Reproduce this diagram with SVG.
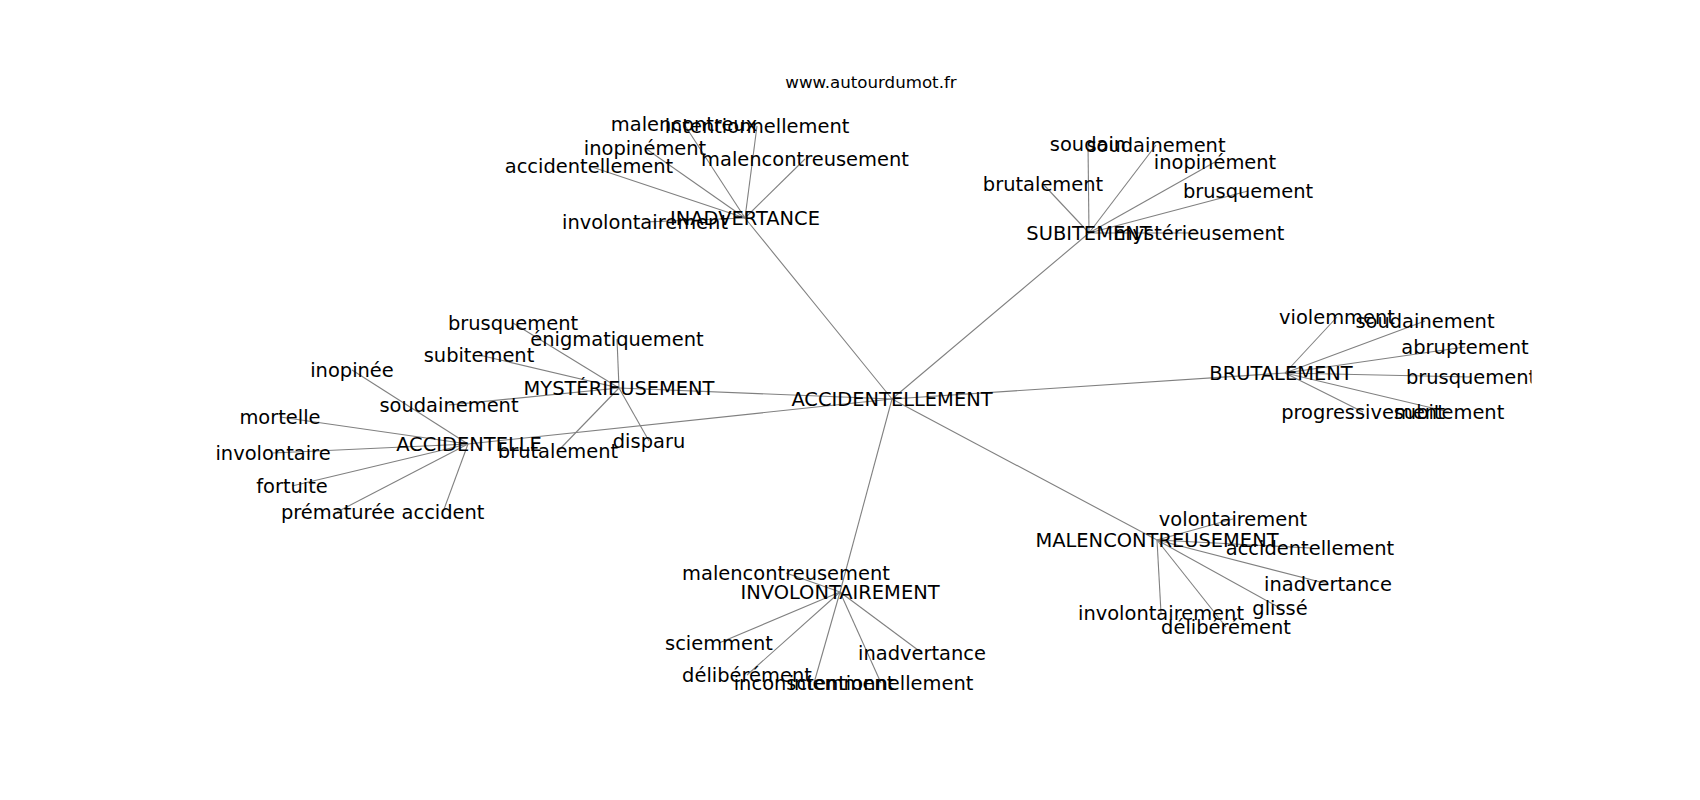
<svg xmlns="http://www.w3.org/2000/svg" width="1700" height="800" viewBox="0 0 1700 800">
<style>
.e{stroke:#808080;stroke-width:1.1;fill:none}
.l{font-family:"DejaVu Sans",sans-serif;font-size:19.44px;fill:#000;text-anchor:middle}
.t{font-family:"DejaVu Sans",sans-serif;font-size:16.67px;fill:#000;text-anchor:middle}
</style>
<defs><clipPath id="ax"><rect x="212.5" y="96" width="1319" height="616"/></clipPath></defs>
<rect width="1700" height="800" fill="#fff"/>
<text class="t" x="871" y="88">www.autourdumot.fr</text>
<g clip-path="url(#ax)">
<g id="connectors">
<line class="e" x1="892" y1="399" x2="745" y2="218"/>
<line class="e" x1="892" y1="399" x2="1089" y2="233"/>
<line class="e" x1="892" y1="399" x2="1285" y2="373"/>
<line class="e" x1="892" y1="399" x2="1157" y2="540"/>
<line class="e" x1="892" y1="399" x2="840" y2="592"/>
<line class="e" x1="892" y1="399" x2="468" y2="444"/>
<line class="e" x1="892" y1="399" x2="619" y2="388"/>
<line class="e" x1="745" y1="218" x2="684" y2="124"/>
<line class="e" x1="745" y1="218" x2="757" y2="126"/>
<line class="e" x1="745" y1="218" x2="645" y2="148"/>
<line class="e" x1="745" y1="218" x2="805" y2="159"/>
<line class="e" x1="745" y1="218" x2="589" y2="166"/>
<line class="e" x1="745" y1="218" x2="645" y2="222"/>
<line class="e" x1="1089" y1="233" x2="1088" y2="144"/>
<line class="e" x1="1089" y1="233" x2="1156" y2="145"/>
<line class="e" x1="1089" y1="233" x2="1215" y2="162"/>
<line class="e" x1="1089" y1="233" x2="1043" y2="184"/>
<line class="e" x1="1089" y1="233" x2="1248" y2="191"/>
<line class="e" x1="1089" y1="233" x2="1199" y2="233"/>
<line class="e" x1="1285" y1="373" x2="1337" y2="317"/>
<line class="e" x1="1285" y1="373" x2="1425" y2="321"/>
<line class="e" x1="1285" y1="373" x2="1465" y2="347"/>
<line class="e" x1="1285" y1="373" x2="1471" y2="377"/>
<line class="e" x1="1285" y1="373" x2="1363" y2="412"/>
<line class="e" x1="1285" y1="373" x2="1449" y2="412"/>
<line class="e" x1="619" y1="388" x2="513" y2="323"/>
<line class="e" x1="619" y1="388" x2="617" y2="339"/>
<line class="e" x1="619" y1="388" x2="479" y2="355"/>
<line class="e" x1="619" y1="388" x2="449" y2="405"/>
<line class="e" x1="619" y1="388" x2="558" y2="451"/>
<line class="e" x1="619" y1="388" x2="649" y2="441"/>
<line class="e" x1="468" y1="444" x2="352" y2="370"/>
<line class="e" x1="468" y1="444" x2="280" y2="417"/>
<line class="e" x1="468" y1="444" x2="273" y2="453"/>
<line class="e" x1="468" y1="444" x2="292" y2="486"/>
<line class="e" x1="468" y1="444" x2="337" y2="512"/>
<line class="e" x1="468" y1="444" x2="443" y2="512"/>
<line class="e" x1="840" y1="592" x2="786" y2="573"/>
<line class="e" x1="840" y1="592" x2="719" y2="643"/>
<line class="e" x1="840" y1="592" x2="747" y2="675"/>
<line class="e" x1="840" y1="592" x2="814" y2="683"/>
<line class="e" x1="840" y1="592" x2="881" y2="683"/>
<line class="e" x1="840" y1="592" x2="922" y2="653"/>
<line class="e" x1="1157" y1="540" x2="1233" y2="519"/>
<line class="e" x1="1157" y1="540" x2="1310" y2="548"/>
<line class="e" x1="1157" y1="540" x2="1328" y2="584"/>
<line class="e" x1="1157" y1="540" x2="1280" y2="608"/>
<line class="e" x1="1157" y1="540" x2="1161" y2="613"/>
<line class="e" x1="1157" y1="540" x2="1226" y2="627"/>
</g>
<g id="ACCIDENTELLEMENT"><text class="l" x="892" y="406">ACCIDENTELLEMENT</text></g>
<g id="INADVERTANCE"><text class="l" x="745" y="225">INADVERTANCE</text></g>
<g id="SUBITEMENT"><text class="l" x="1089" y="240">SUBITEMENT</text></g>
<g id="BRUTALEMENT"><text class="l" x="1281" y="380">BRUTALEMENT</text></g>
<g id="MALENCONTREUSEMENT"><text class="l" x="1157" y="547">MALENCONTREUSEMENT</text></g>
<g id="INVOLONTAIREMENT"><text class="l" x="840" y="599">INVOLONTAIREMENT</text></g>
<g id="ACCIDENTELLE"><text class="l" x="469" y="451">ACCIDENTELLE</text></g>
<g id="MYSTERIEUSEMENT"><text class="l" x="619" y="395">MYSTÉRIEUSEMENT</text></g>
<g id="in-malencontreux"><text class="l" x="684" y="131">malencontreux</text></g>
<g id="in-intentionnellement"><text class="l" x="757" y="133">intentionnellement</text></g>
<g id="in-inopinement"><text class="l" x="645" y="155">inopinément</text></g>
<g id="in-malencontreusement"><text class="l" x="805" y="166">malencontreusement</text></g>
<g id="in-accidentellement"><text class="l" x="589" y="173">accidentellement</text></g>
<g id="in-involontairement"><text class="l" x="645" y="229">involontairement</text></g>
<g id="su-soudain"><text class="l" x="1088" y="151">soudain</text></g>
<g id="su-soudainement"><text class="l" x="1156" y="152">soudainement</text></g>
<g id="su-inopinement"><text class="l" x="1215" y="169">inopinément</text></g>
<g id="su-brutalement"><text class="l" x="1043" y="191">brutalement</text></g>
<g id="su-brusquement"><text class="l" x="1248" y="198">brusquement</text></g>
<g id="su-mysterieusement"><text class="l" x="1199" y="240">mystérieusement</text></g>
<g id="br-violemment"><text class="l" x="1337" y="324">violemment</text></g>
<g id="br-soudainement"><text class="l" x="1425" y="328">soudainement</text></g>
<g id="br-abruptement"><text class="l" x="1465" y="354">abruptement</text></g>
<g id="br-brusquement"><text class="l" x="1471" y="384">brusquement</text></g>
<g id="br-progressivement"><text class="l" x="1363" y="419">progressivement</text></g>
<g id="br-subitement"><text class="l" x="1449" y="419">subitement</text></g>
<g id="my-brusquement"><text class="l" x="513" y="330">brusquement</text></g>
<g id="my-enigmatiquement"><text class="l" x="617" y="346">énigmatiquement</text></g>
<g id="my-subitement"><text class="l" x="479" y="362">subitement</text></g>
<g id="my-soudainement"><text class="l" x="449" y="412">soudainement</text></g>
<g id="my-brutalement"><text class="l" x="558" y="458">brutalement</text></g>
<g id="my-disparu"><text class="l" x="649" y="448">disparu</text></g>
<g id="ac-inopinee"><text class="l" x="352" y="377">inopinée</text></g>
<g id="ac-mortelle"><text class="l" x="280" y="424">mortelle</text></g>
<g id="ac-involontaire"><text class="l" x="273" y="460">involontaire</text></g>
<g id="ac-fortuite"><text class="l" x="292" y="493">fortuite</text></g>
<g id="ac-prematuree"><text class="l" x="338" y="519">prématurée</text></g>
<g id="ac-accident"><text class="l" x="443" y="519">accident</text></g>
<g id="iv-malencontreusement"><text class="l" x="786" y="580">malencontreusement</text></g>
<g id="iv-sciemment"><text class="l" x="719" y="650">sciemment</text></g>
<g id="iv-deliberement"><text class="l" x="747" y="682">délibérément</text></g>
<g id="iv-inconsciemment"><text class="l" x="814" y="690">inconsciemment</text></g>
<g id="iv-intentionnellement"><text class="l" x="881" y="690">intentionnellement</text></g>
<g id="iv-inadvertance"><text class="l" x="922" y="660">inadvertance</text></g>
<g id="ma-volontairement"><text class="l" x="1233" y="526">volontairement</text></g>
<g id="ma-accidentellement"><text class="l" x="1310" y="555">accidentellement</text></g>
<g id="ma-inadvertance"><text class="l" x="1328" y="591">inadvertance</text></g>
<g id="ma-glisse"><text class="l" x="1280" y="615">glissé</text></g>
<g id="ma-involontairement"><text class="l" x="1161" y="620">involontairement</text></g>
<g id="ma-deliberement"><text class="l" x="1226" y="634">délibérément</text></g>
</g>
</svg>
